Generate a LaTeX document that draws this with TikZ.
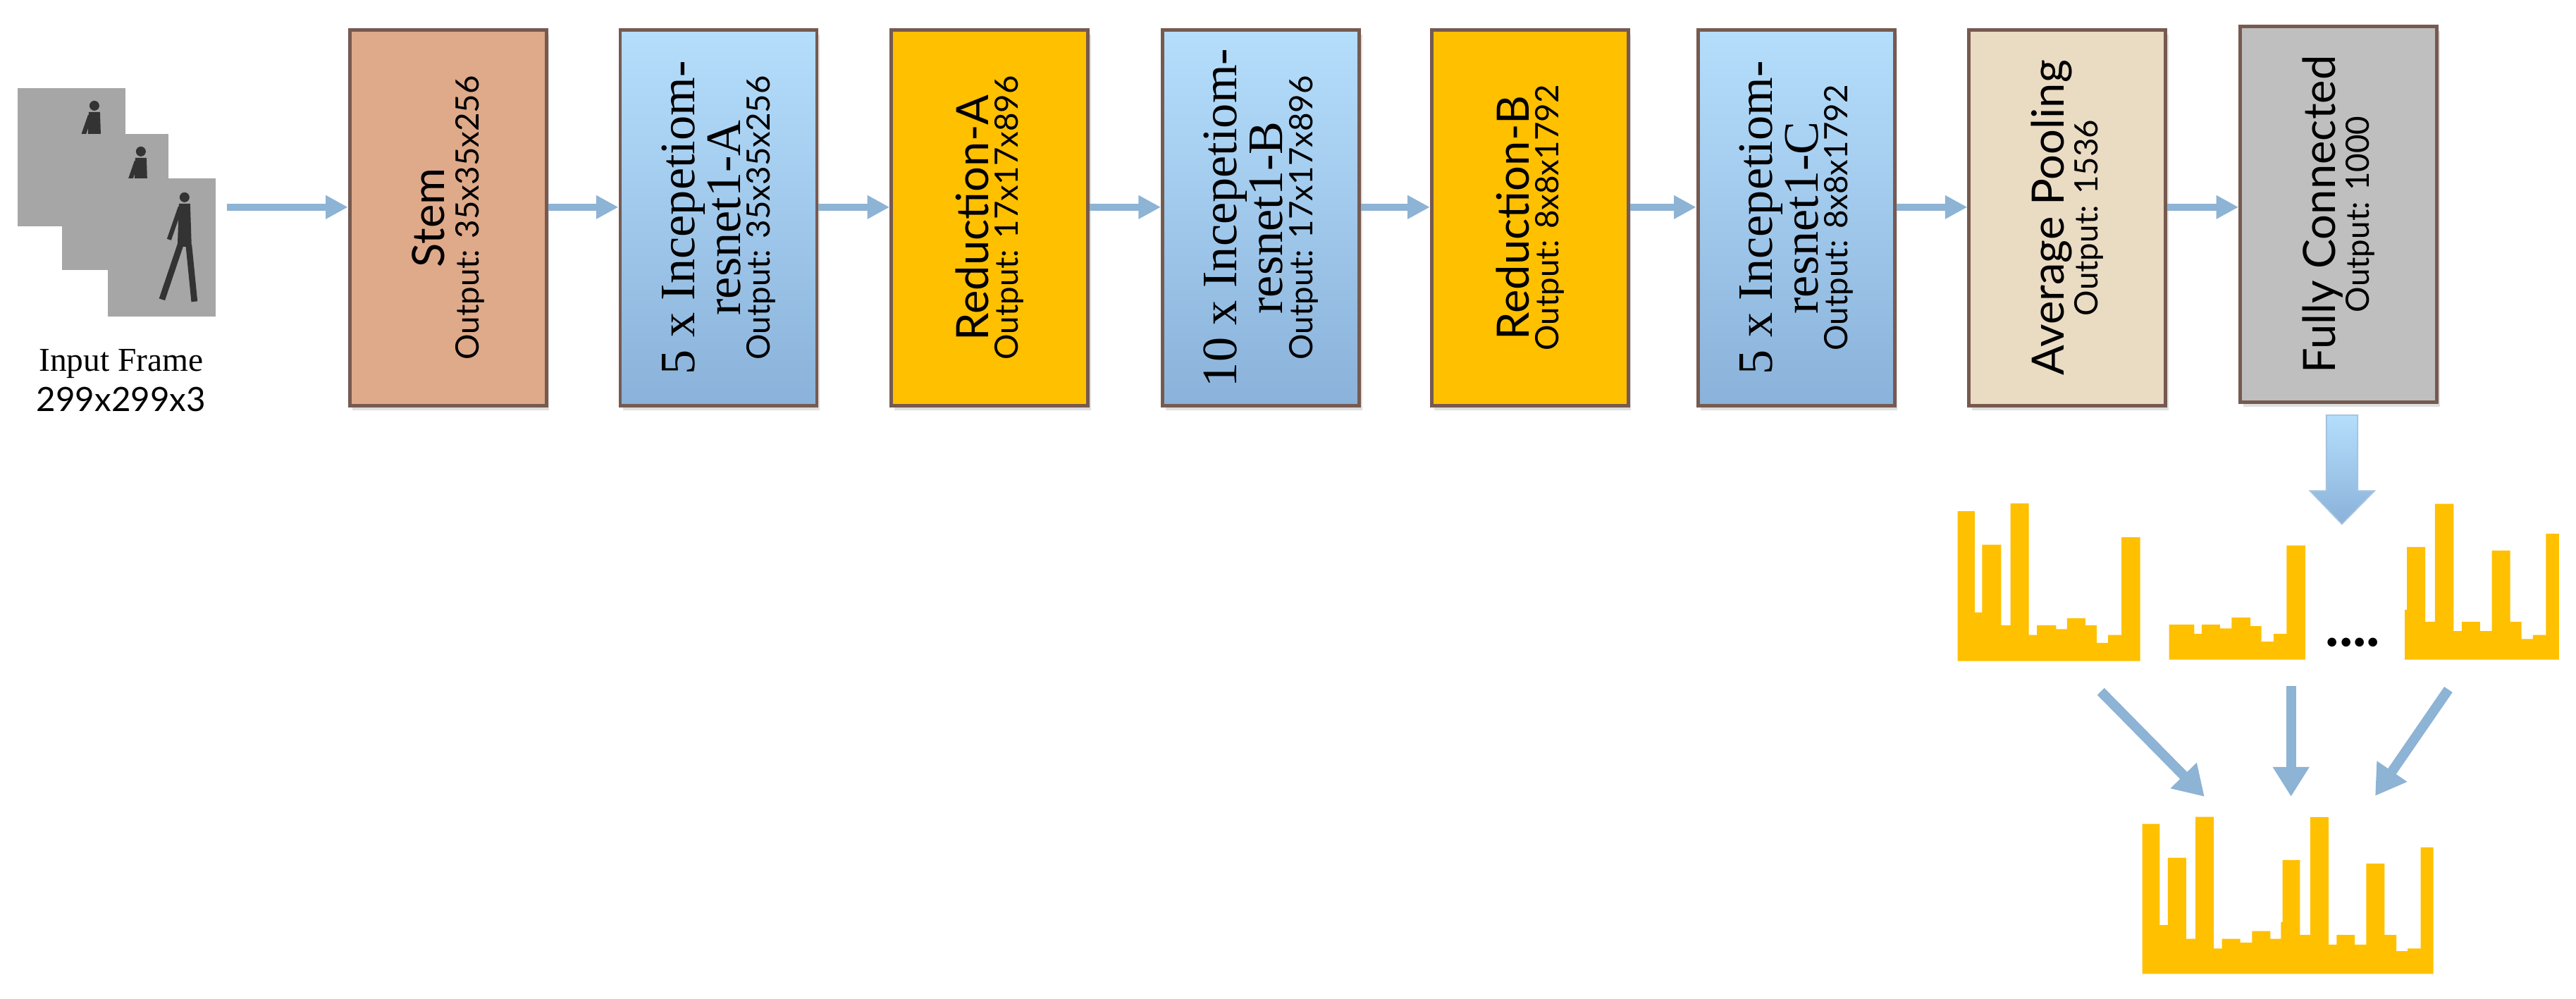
\documentclass[tikz,border=0pt]{standalone}
\usepackage{fontspec}
\setmainfont{Liberation Serif}
\newfontfamily\gs{Lato}
\usetikzlibrary{arrows.meta,shadows}
\definecolor{bord}{HTML}{765A50}
\definecolor{arr}{HTML}{8DB3D5}
\definecolor{salmon}{HTML}{DFAA8A}
\definecolor{gold}{HTML}{FFC000}
\definecolor{beige}{HTML}{EADBC3}
\definecolor{grayb}{HTML}{BFBFBF}
\definecolor{bltop}{HTML}{B5DEFC}
\definecolor{blbot}{HTML}{8AB2DA}
\tikzset{
 blk/.style={draw=bord,line width=1.4pt,minimum width=2.79cm,minimum height=5.33cm,anchor=north west,
   drop shadow={opacity=0.25,shadow xshift=0.04cm,shadow yshift=-0.07cm}},
 inc/.style={blk,top color=bltop,bottom color=blbot},
 lbl/.style={rotate=90,align=center,inner sep=0pt},
 flow/.style={draw=arr,line width=2.8pt,-{Triangle[length=9pt,width=9pt]}},
 hist/.style={fill=gold,draw=none},
 frame/.style={fill=gray!70,draw=none}
}
\newcommand{\ttlf}{\gs\fontsize{18}{22}\selectfont}
\newcommand{\incf}{\rmfamily\fontsize{20}{21}\selectfont}
\newcommand{\outf}{\gs\fontsize{13}{15}\selectfont}
\newcommand{\walker}[2]{%
 \fill[black!80] (#1,#2) circle [radius=0.07cm];
 \fill[black!80] (#1-8,#2+9) -- (#1+8,#2+9) -- (#1+10,#2+70) -- (#1-10,#2+70) -- cycle;
 \draw[black!80,line width=2.5pt] (#1-6,#2+68) -- (#1-32,#2+145);
 \draw[black!80,line width=2.5pt] (#1+6,#2+68) -- (#1+14,#2+148);
 \draw[black!80,line width=1.8pt] (#1-6,#2+14) -- (#1-22,#2+60);
}
\begin{document}
\begin{tikzpicture}
\useasboundingbox (0,0) rectangle (36.55,14.16);
\begin{scope}[shift={(0cm,14.16cm)},x=0.01cm,y=-0.01cm]
 \fill[frame] (25,125) rectangle (178,321); \walker{134}{150}
 \fill[frame] (88,190) rectangle (239,383); \walker{200}{215}
 \fill[frame] (153,253) rectangle (306,449); \walker{262}{280}
 \node (intxt) at (172,540) [align=center,font=\fontsize{13.5}{16}\selectfont] {Input Frame\\ \gs 299x299x3};
 \node[blk,fill=salmon] (stem) at (494,40) {};
 \node[inc] (ia) at (878,40) {};
 \node[blk,fill=gold] (ra) at (1263,40) {};
 \node[inc] (ib) at (1648,40) {};
 \node[blk,fill=gold] (rb) at (2030,40) {};
 \node[inc] (ic) at (2408,40) {};
 \node[blk,fill=beige] (ap) at (2793,40) {};
 \node[blk,fill=grayb] (fc) at (3178,35) {};
 \node[lbl] (tstem) at (stem.center) {\ttlf Stem\\[2pt] \outf Output: 35x35x256};
 \node[lbl] (tia) at (ia.center) {\incf 5 x Incepetiom-\\ \incf resnet1-A\\ \outf Output: 35x35x256};
 \node[lbl] (tra) at (ra.center) {\ttlf Reduction-A\\ \outf Output: 17x17x896};
 \node[lbl] (tib) at (ib.center) {\incf 10 x Incepetiom-\\ \incf resnet1-B\\ \outf Output: 17x17x896};
 \node[lbl] (trb) at (rb.center) {\ttlf Reduction-B\\ \outf Output: 8x8x1792};
 \node[lbl] (tic) at (ic.center) {\incf 5 x Incepetiom-\\ \incf resnet1-C\\ \outf Output: 8x8x1792};
 \node[lbl] (tap) at (ap.center) {\ttlf Average Pooling\\ \outf Output: 1536};
 \node[lbl] (tfc) at (fc.center) {\ttlf Fully Connected\\ \outf Output: 1000};
 \coordinate (s0) at (322,294);
 \draw[flow] (s0) -- (stem.west |- s0);
 \draw[flow] (stem.east |- s0) -- (ia.west |- s0);
 \draw[flow] (ia.east |- s0) -- (ra.west |- s0);
 \draw[flow] (ra.east |- s0) -- (ib.west |- s0);
 \draw[flow] (ib.east |- s0) -- (rb.west |- s0);
 \draw[flow] (rb.east |- s0) -- (ic.west |- s0);
 \draw[flow] (ic.east |- s0) -- (ap.west |- s0);
 \draw[flow] (ap.east |- s0) -- (fc.west |- s0);
\end{scope}
\begin{scope}[shift={(27.50cm,8.66cm)},x=0.00577cm,y=-0.005525cm]
 \shade[top color=bltop,bottom color=blbot,draw=arr!80,line width=0.5pt]
   (955,70) -- (1032,70) -- (1032,265) -- (1073,265) -- (993,350) -- (915,265) -- (955,265) -- cycle;
 \fill[hist] (48,702) -- (48,317) -| (90,577) -| (108,403) -| (155,610) -| (178,297) -| (223,635) -| (243,610)
   -| (290,620) -| (317,592) -| (362,610) -| (390,655) -| (418,635) -| (451,384) -| (497,702) -- cycle;
 \fill[hist] (568,698) -- (568,608) -| (630,632) -| (648,608) -| (693,618) -| (722,590) -| (768,612) -| (795,652)
   -| (825,632) -| (857,405) -| (903,698) -- cycle;
 \fill[hist] (1148,698) -- (1148,570) -| (1153,409) -| (1198,601) -| (1222,298) -| (1268,625) -| (1288,601)
   -| (1333,625) -| (1362,418) -| (1407,601) -| (1435,645) -| (1463,635) -| (1495,375) -| (1527,698) -- cycle;
 \fill[hist] (502,1505) -- (502,1120) -| (545,1380) -| (565,1207) -| (610,1415) -| (633,1102) -| (678,1440)
   -| (698,1415) -| (743,1425) -| (772,1395) -| (817,1415) -| (843,1372) -| (847,1213) -| (890,1405)
   -| (915,1103) -| (960,1430) -| (980,1405) -| (1025,1430) -| (1053,1222) -| (1098,1405) -| (1127,1447)
   -| (1155,1440) -| (1187,1180) -| (1218,1505) -- cycle;
 \node (dots) at (1020,655) {\fontsize{22}{22}\selectfont\bfseries ....};
 \coordinate (a1) at (400,780); \coordinate (b1) at (655,1050);
 \coordinate (a2) at (868,765); \coordinate (b2) at (868,1050);
 \coordinate (a3) at (1255,775); \coordinate (b3) at (1075,1048);
 \draw[flow,line width=4pt,-{Triangle[length=12pt,width=14pt]}] (a1) -- (b1);
 \draw[flow,line width=4pt,-{Triangle[length=12pt,width=14pt]}] (a2) -- (b2);
 \draw[flow,line width=4pt,-{Triangle[length=12pt,width=14pt]}] (a3) -- (b3);
\end{scope}
\end{tikzpicture}
\end{document}
